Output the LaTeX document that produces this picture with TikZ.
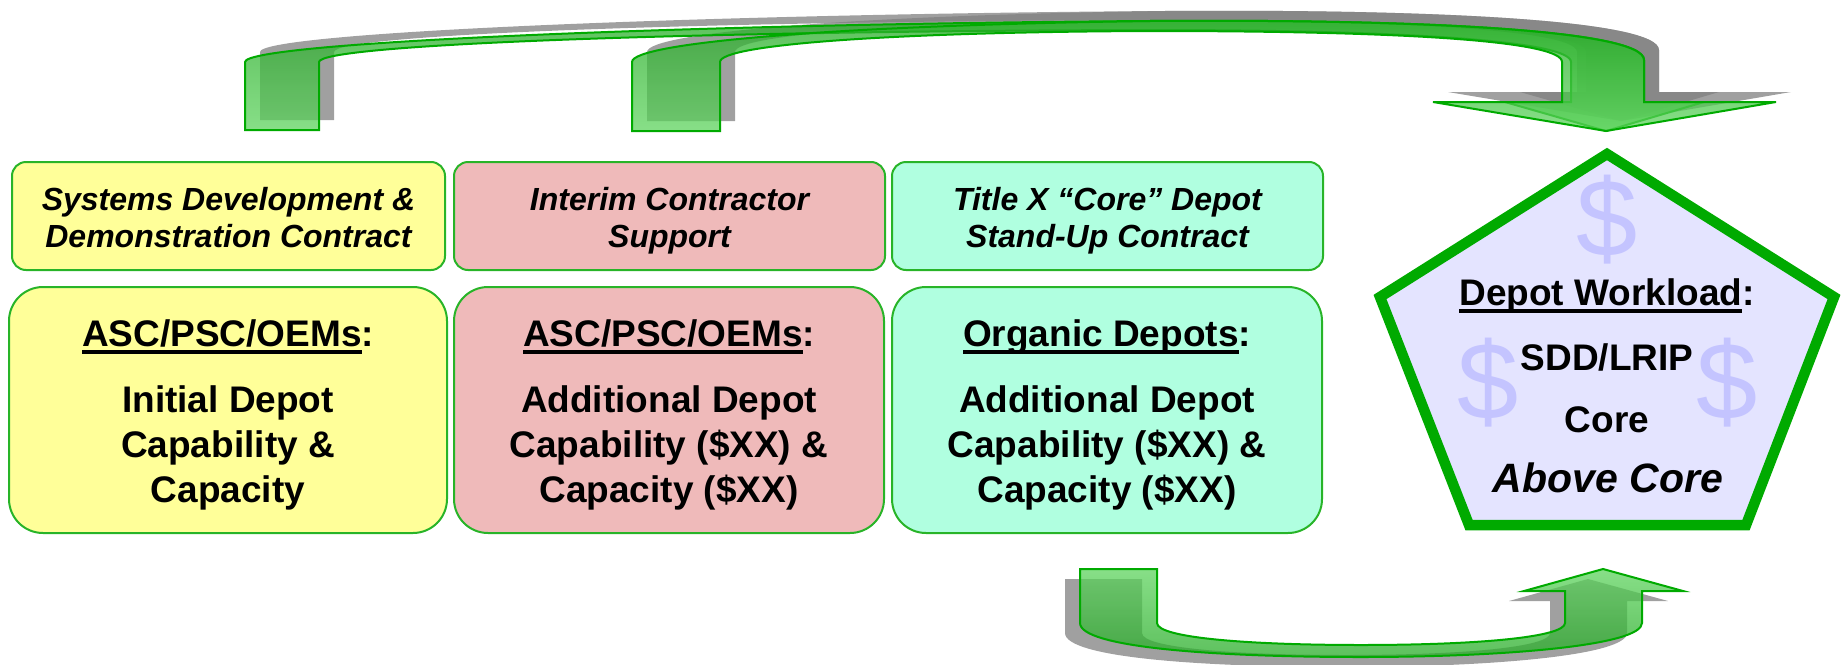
\documentclass[tikz,border=0pt]{standalone}
\usepackage{fontspec}
\setmainfont{Liberation Sans}
\usepackage{xcolor}
\usepackage{tikz}
\usetikzlibrary{positioning}

\definecolor{boxline}{RGB}{40,180,40}
\definecolor{yellowfill}{RGB}{255,255,153}
\definecolor{pinkfill}{RGB}{239,186,186}
\definecolor{mintfill}{RGB}{176,255,224}
\definecolor{penfill}{RGB}{228,228,255}
\definecolor{penline}{RGB}{0,170,0}
\definecolor{dollarblue}{RGB}{196,196,255}
\definecolor{arrowline}{RGB}{0,170,0}
\definecolor{arrowlight}{RGB}{95,212,95}
\definecolor{arrowdark}{RGB}{40,172,40}
\definecolor{shadowgray}{RGB}{128,128,128}

\newcommand\ulword[1]{\setbox0\hbox{#1}\rlap{\rule[-7.5pt]{\wd0}{4pt}}\box0}

% the two curved arrows on top and the one below
\newcommand\toparrowA{(245,130) -- (245,62) .. controls (245,42) and (700,24) .. (1150,21) .. controls (1420,19) and (1644,30) .. (1644,60) -- (1644,102) -- (1704,102) -- (1606,131) -- (1505,102) -- (1571,102) -- (1571,62) .. controls (1571,42) and (1420,30) .. (1150,30) .. controls (700,31) and (319,44) .. (319,62) -- (319,130) -- cycle}
\newcommand\toparrowB{(632,131) -- (632,62) .. controls (632,42) and (850,25) .. (1150,21) .. controls (1420,19) and (1644,30) .. (1644,60) -- (1644,102) -- (1776,102) -- (1606,131) -- (1433,102) -- (1562,102) -- (1562,62) .. controls (1562,42) and (1420,31) .. (1150,31) .. controls (900,32) and (720,44) .. (720,62) -- (720,131) -- cycle}
\newcommand\botarrow{(1080,569) -- (1157,569) -- (1157,623) .. controls (1157,638) and (1250,645) .. (1361,645) .. controls (1480,645) and (1565,637) .. (1565,623) -- (1565,591) -- (1524,591) -- (1603,569) -- (1683,591) -- (1642,591) -- (1642,623) .. controls (1642,645) and (1510,657) .. (1361,657) .. controls (1210,657) and (1080,647) .. (1080,623) -- cycle}

\begin{document}
\begin{tikzpicture}[x=1pt,y=-1pt,
	smallbox/.style={draw=boxline, line width=2pt, rounded corners=14pt, minimum width=431pt, minimum height=108pt, inner sep=0pt, outer sep=0pt},
	bigbox/.style={draw=boxline, line width=2pt, rounded corners=34pt, minimum width=430pt, minimum height=246pt, inner sep=0pt, outer sep=0pt},
	smalltext/.style={align=center, inner sep=0pt, font=\fontsize{32}{37}\selectfont\bfseries\itshape},
	bigtext/.style={align=center, inner sep=0pt, font=\fontsize{37}{45}\selectfont\bfseries},
	pentext/.style={anchor=base, inner sep=0pt, font=\fontsize{37}{45}\selectfont\bfseries},
	dollar/.style={inner sep=0pt, text=dollarblue, font=\fontsize{110}{110}\selectfont},
	arrowshadow/.style={fill=shadowgray, fill opacity=0.75},
	arrowbody/.style={draw=arrowline, line width=2pt, fill opacity=0.75}]
	\useasboundingbox (0,0) rectangle (1843,664);

	% shadows
	\fill[arrowshadow, shift={(15,-10)}] \toparrowA;
	\fill[arrowshadow, shift={(15,-10)}] \toparrowB;
	\fill[arrowshadow, shift={(-15,10)}] \botarrow;

	% arrows
	\draw[arrowbody, top color=arrowdark, bottom color=arrowlight] \toparrowA;
	\draw[arrowbody, top color=arrowdark, bottom color=arrowlight] \toparrowB;
	\draw[arrowbody, top color=arrowlight, bottom color=arrowdark] \botarrow;

	% contract boxes
	\node[smallbox, fill=yellowfill, minimum width=433pt] (sdd) at (228.5,216) {};
	\node[smallbox, fill=pinkfill, right=9pt of sdd] (ics) {};
	\node[smallbox, fill=mintfill, right=7pt of ics] (titlex) {};
	\node[smalltext, below=24.7pt of sdd.north] (sddtxt) {Systems Development \&\\Demonstration Contract};
	\node[smalltext, below=24.7pt of ics.north] (icstxt) {Interim Contractor\\Support};
	\node[smalltext, below=24.7pt of titlex.north] (titlextxt) {Title X “Core” Depot\\Stand-Up Contract};

	% capability boxes
	\node[bigbox, fill=yellowfill, minimum width=438pt] (oem1) at (228,410) {};
	\node[bigbox, fill=pinkfill, right=7pt of oem1] (oem2) {};
	\node[bigbox, fill=mintfill, right=8pt of oem2] (depots) {};
	\node[bigtext, below=32pt of oem1.north] (oem1txt) {\ulword{ASC/PSC/OEMs}:\\[21pt]Initial Depot\\Capability \&\\Capacity};
	\node[bigtext, below=32pt of oem2.north] (oem2txt) {\ulword{ASC/PSC/OEMs}:\\[21pt]Additional Depot\\Capability (\$XX) \&\\Capacity (\$XX)};
	\node[bigtext, below=32pt of depots.north] (depotstxt) {\ulword{Organic Depots}:\\[21pt]Additional Depot\\Capability (\$XX) \&\\Capacity (\$XX)};

	% workload pentagon
	\draw[penline, line width=10.5pt, fill=penfill] (1607,154) -- (1834,297) -- (1746,525) -- (1469,525) -- (1380,297) -- cycle;
	\node[dollar] (dtop) at (1607,220) {\$};
	\node[dollar] (dleft) at (1488,383) {\$};
	\node[dollar] (dright) at (1727,383) {\$};
	\node[pentext] (workload) at (1607,305) {\ulword{Depot Workload}:};
	\node[pentext] (lrip) at (1607,370) {SDD/LRIP};
	\node[pentext] (core) at (1607,432) {Core};
	\node[pentext, font=\fontsize{41}{45}\selectfont\bfseries\itshape] (abovecore) at (1608,492) {Above Core};
\end{tikzpicture}
\end{document}
